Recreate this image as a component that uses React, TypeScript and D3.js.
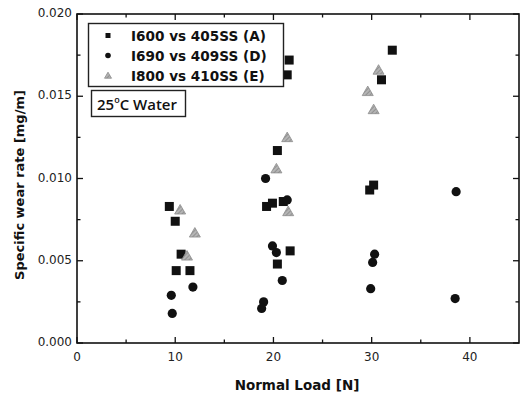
import React from "react";
import * as d3 from "d3";

const seriesNames = ["I600 vs 405SS (A)", "I690 vs 409SS (D)", "I800 vs 410SS (E)"];

const loadA = [9.4, 10.0, 10.6, 10.1, 11.5, 19.3, 19.9, 21.0, 20.4, 21.4, 21.6, 21.7, 20.4, 29.8, 30.2, 31.0, 32.1];
const wearA = [0.0083, 0.0074, 0.0054, 0.0044, 0.0044, 0.0083, 0.0085, 0.0086, 0.0117, 0.0163, 0.0172, 0.0056, 0.0048, 0.0093, 0.0096, 0.016, 0.0178];

const loadD = [9.6, 9.7, 11.8, 19.2, 21.4, 19.9, 20.3, 20.9, 19.0, 18.8, 30.3, 30.1, 29.9, 38.5, 38.6];
const wearD = [0.0029, 0.0018, 0.0034, 0.01, 0.0087, 0.0059, 0.0055, 0.0038, 0.0025, 0.0021, 0.0054, 0.0049, 0.0033, 0.0027, 0.0092];

const loadE = [10.5, 12.0, 11.2, 21.4, 20.3, 21.5, 30.7, 29.6, 30.2];
const wearE = [0.0081, 0.0067, 0.0053, 0.0125, 0.0106, 0.008, 0.0166, 0.0153, 0.0142];

const xMajor = [0, 10, 20, 30, 40];
const xMinor = [5, 15, 25, 35];
const yMajor = [0, 0.005, 0.01, 0.015, 0.02];
const yMinor = [0.0025, 0.0075, 0.0125, 0.0175];

const W = 524;
const H = 397;
const L = 77, T = 14, R = 519, B = 343;

const x = d3.scaleLinear().domain([0, 45]).range([L, R]);
const y = d3.scaleLinear().domain([0, 0.02]).range([B, T]);

const font = "'DejaVu Sans', Verdana, sans-serif";

function Square({ cx, cy, s }: { cx: number; cy: number; s: number }) {
  return <rect x={cx - s / 2} y={cy - s / 2} width={s} height={s} fill="#111" />;
}
function Dot({ cx, cy, r }: { cx: number; cy: number; r: number }) {
  return <circle cx={cx} cy={cy} r={r} fill="#111" />;
}
function Tri({ cx, cy, s }: { cx: number; cy: number; s: number }) {
  const sym = d3.symbol(d3.symbolTriangle, s * s * 0.433)();
  return (
    <path
      d={sym as string}
      transform={`translate(${cx},${cy + s * 0.1})`}
      fill="url(#hatch)"
      stroke="#8c8c8c"
      strokeWidth={0.8}
    />
  );
}

export default function App() {
  const fmt = d3.format(".3f");
  return (
    <svg width={W} height={H} style={{ position: "absolute", left: 0, top: 0, background: "#fff" }} fontFamily={font}>
      <defs>
        <pattern id="hatch" width="3" height="3" patternUnits="userSpaceOnUse" patternTransform="rotate(45)">
          <rect width="3" height="3" fill="#b4b4b4" />
          <line x1="0" y1="0" x2="0" y2="3" stroke="#7a7a7a" strokeWidth="1.2" />
        </pattern>
      </defs>
      {/* frame */}
      <rect x={L} y={T} width={R - L} height={B - T} fill="none" stroke="#111" strokeWidth={1.6} />
      {/* ticks */}
      {xMajor.map((v) => (
        <g key={"xm" + v}>
          <line x1={x(v)} x2={x(v)} y1={B} y2={B - 6} stroke="#111" strokeWidth={1.3} />
          <line x1={x(v)} x2={x(v)} y1={T} y2={T + 6} stroke="#111" strokeWidth={1.3} />
          <text x={x(v)} y={361} textAnchor="middle" fontSize={12} fill="#222">{v}</text>
        </g>
      ))}
      {xMinor.map((v) => (
        <g key={"xn" + v}>
          <line x1={x(v)} x2={x(v)} y1={B} y2={B - 3.5} stroke="#111" strokeWidth={1.3} />
          <line x1={x(v)} x2={x(v)} y1={T} y2={T + 3.5} stroke="#111" strokeWidth={1.3} />
        </g>
      ))}
      {yMajor.map((v) => (
        <g key={"ym" + v}>
          <line x1={L} x2={L + 6} y1={y(v)} y2={y(v)} stroke="#111" strokeWidth={1.3} />
          <line x1={R} x2={R - 6} y1={y(v)} y2={y(v)} stroke="#111" strokeWidth={1.3} />
          <text x={72} y={y(v) + 3} textAnchor="end" fontSize={12} fill="#222">{fmt(v)}</text>
        </g>
      ))}
      {yMinor.map((v) => (
        <g key={"yn" + v}>
          <line x1={L} x2={L + 3.5} y1={y(v)} y2={y(v)} stroke="#111" strokeWidth={1.3} />
          <line x1={R} x2={R - 3.5} y1={y(v)} y2={y(v)} stroke="#111" strokeWidth={1.3} />
        </g>
      ))}
      {/* axis titles */}
      <text x={297} y={390} textAnchor="middle" fontSize={13.5} fontWeight="bold" fill="#111">Normal Load [N]</text>
      <text transform="translate(24,185) rotate(-90)" textAnchor="middle" fontSize={13} fontWeight="bold" fill="#111">Specific wear rate [mg/m]</text>
      {/* data */}
      {loadA.map((v, i) => <Square key={"a" + i} cx={x(v)} cy={y(wearA[i])} s={9} />)}
      {loadD.map((v, i) => <Dot key={"d" + i} cx={x(v)} cy={y(wearD[i])} r={4.6} />)}
      {loadE.map((v, i) => <Tri key={"e" + i} cx={x(v)} cy={y(wearE[i])} s={11} />)}
      {/* legend */}
      <rect x={88.5} y={23.5} width={195} height={63} fill="#fff" stroke="#222" strokeWidth={1.4} />
      <Square cx={108} cy={35.5} s={5} />
      <Dot cx={108} cy={55.5} r={2.8} />
      <Tri cx={108} cy={75.5} s={7} />
      {seriesNames.map((n, i) => (
        <text key={n} x={131} y={40.5 + i * 20} fontSize={13.6} fontWeight="bold" fill="#111">{n}</text>
      ))}
      <rect x={91.5} y={90.5} width={94} height={26} fill="#fff" stroke="#222" strokeWidth={1.4} />
      <text x={97} y={110} fontSize={15} fontWeight={600} fontFamily="'Open Sans', sans-serif" fill="#111">
        25<tspan fontSize={9} dy={-7}>o</tspan><tspan dy={7}>C Water</tspan>
      </text>
    </svg>
  );
}
